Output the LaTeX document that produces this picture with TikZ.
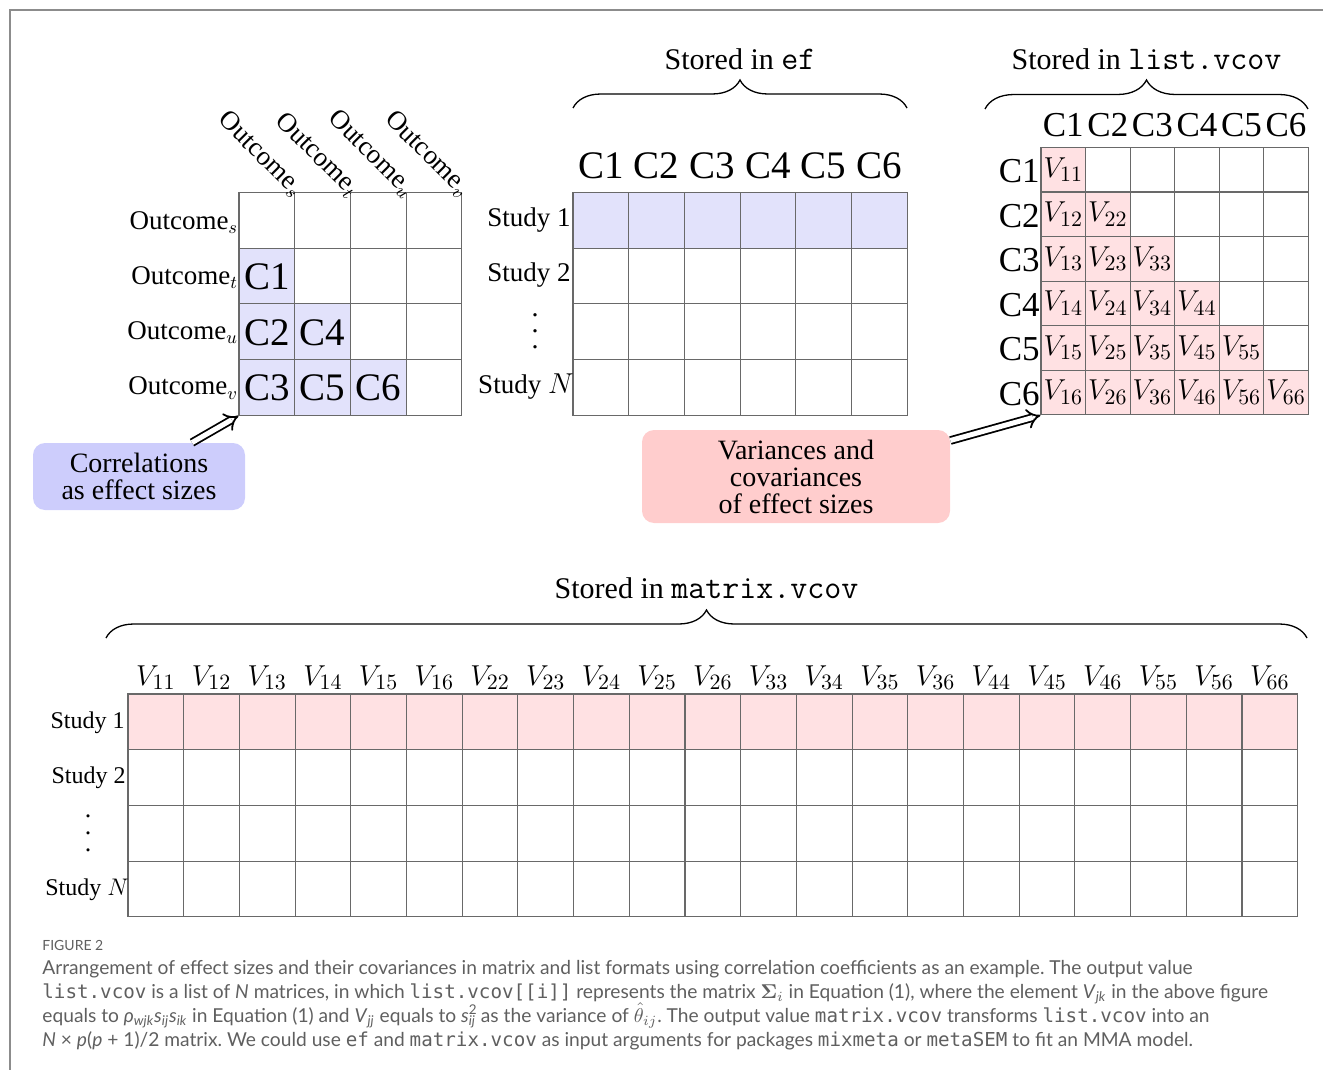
\documentclass[tikz,border=0pt]{standalone}
\usepackage{amsmath}
\usepackage{bm}
\usepackage{fontspec}
\setmainfont{Liberation Serif}
\newfontfamily\capfont{Lato}
\newfontfamily\capmono{DejaVu Sans Mono}
\usetikzlibrary{decorations.pathreplacing,arrows.meta}

\definecolor{cellblue}{RGB}{226,226,251}
\definecolor{boxblue}{RGB}{205,205,252}
\definecolor{cellpink}{RGB}{255,225,227}
\definecolor{boxpink}{RGB}{255,205,205}
\definecolor{gridline}{RGB}{105,105,105}
\definecolor{capgray}{RGB}{95,95,95}
\definecolor{framegray}{RGB}{140,140,140}

\newcommand{\subsup}[2]{\makebox[0pt][l]{\textsuperscript{#1}}\textsubscript{\textit{#2}}}
\newcommand{\codett}[1]{{\ttfamily\fontsize{16.5}{18}\selectfont #1}}

\tikzset{
  cellA/.style={draw=gridline, line width=0.55pt, minimum width=27.85pt, minimum height=27.85pt, inner sep=0pt},
  cellB/.style={draw=gridline, line width=0.55pt, minimum width=22.275pt, minimum height=22.3pt, inner sep=0pt},
  bigC/.style={font=\fontsize{19.5}{22}\selectfont, anchor=base, inner sep=0pt},
  midC/.style={font=\fontsize{17.5}{20}\selectfont, anchor=base, inner sep=0pt},
  vtext/.style={font=\fontsize{15}{18}\selectfont, anchor=base, inner sep=0pt},
  rowlab/.style={font=\fontsize{13.5}{16}\selectfont, anchor=base east, inner sep=0pt},
  smalllab/.style={font=\fontsize{12}{14}\selectfont, anchor=base east, inner sep=0pt},
  titletext/.style={font=\fontsize{15}{18}\selectfont, anchor=base, inner sep=0pt},
  bracepath/.style={decorate, decoration={brace, amplitude=14pt}, line width=0.65pt},
  infobox/.style={rounded corners=6pt, align=center, font=\fontsize{14}{13.5}\selectfont, inner sep=0pt},
  dblarrow/.style={double, double distance=2.5pt, line width=0.9pt, -{Implies}},
  capline/.style={anchor=base west, inner sep=0pt, text=capgray, font=\capfont\fontsize{9.6}{12}\selectfont\frenchspacing},
  dotsnode/.style={align=center, inner sep=0pt},
}

\begin{document}
\begin{tikzpicture}[x=0.5pt,y=-0.5pt]
\useasboundingbox (0,0) rectangle (1323,1070);
\draw[framegray, line width=1pt] (10,1085) -- (10,10) -- (1340,10);

% ---------- left correlation matrix ----------
\foreach \r in {1,...,4}{
  \foreach \c in {1,...,4}{
    \ifnum\c<\r \def\fc{cellblue}\else\def\fc{white}\fi
    \node[cellA, fill=\fc] (L-\r-\c) at ({239+55.7*(\c-0.5)},{192.5+55.7*(\r-0.5)}) {};
  }
}
\foreach \r/\c/\t in {2/1/C1,3/1/C2,4/1/C3,3/2/C4,4/2/C5,4/3/C6}{
  \node[bigC] (Lt-\r-\c) at ({239+55.7*(\c-0.5)},{400.5-55.3*(4-\r)}) {\t};
}
\foreach \r/\s in {1/s,2/t,3/u,4/v}{
  \node[rowlab] (Lr-\r) at (238.5,{229+55.3*(\r-1)}) {Outcome$_\s$};
}
\foreach \c/\s in {1/s,2/t,3/u,4/v}{
  \node[rowlab, rotate=-45] (Lc-\c) at ({239+55.7*\c+0},198) {Outcome$_\s$};
}

% ---------- ef matrix ----------
\foreach \r in {1,...,4}{
  \foreach \c in {1,...,6}{
    \ifnum\r=1 \def\fc{cellblue}\else\def\fc{white}\fi
    \node[cellA, fill=\fc] (E-\r-\c) at ({573+55.7*(\c-0.5)},{192.5+55.7*(\r-0.5)}) {};
  }
}
\foreach \c in {1,...,6}{
  \node[bigC] (Eh-\c) at ({573+55.7*(\c-0.5)},178.3) {C\c};
}
\node[rowlab] (Es-1) at (571,226.5) {Study 1};
\node[rowlab] (Es-2) at (571,281.7) {Study 2};
\node[dotsnode, font=\fontsize{14}{8}\selectfont] (Es-3) at (535,331) {.\\.\\.};
\node[rowlab] (Es-4) at (574,393) {Study $N$};

\draw[bracepath] (573,108) -- (907,108);
\node[titletext] (eftitle) at (740,70) {Stored in \codett{ef}};

% ---------- list.vcov matrix ----------
\foreach \r in {1,...,6}{
  \foreach \c in {1,...,6}{
    \ifnum\c>\r \def\fc{white}\else\def\fc{cellpink}\fi
    \node[cellB, fill=\fc] (V-\r-\c) at ({1041+44.55*(\c-0.5)},{147.5+44.55*(\r-0.5)}) {};
  }
}
\foreach \r in {1,...,6}{
  \foreach \c in {1,...,6}{
    \ifnum\c>\r\else
      \node[vtext] (Vt-\r-\c) at ({1041+44.55*(\c-0.5)},{177.2+44.55*(\r-1)}) {$V_{\c\r}$};
    \fi
  }
}
\foreach \c in {1,...,6}{
  \node[midC] (Vh-\c) at ({1041+44.55*(\c-0.5)},136.7) {C\c};
}
\foreach \r in {1,...,6}{
  \node[midC, anchor=base east] (Vr-\r) at (1040,{182.6+44.55*(\r-1)}) {C\r};
}
\draw[bracepath, decoration={amplitude=14.5pt}] (985,109) -- (1308,109);
\node[titletext] (lvtitle) at (1146.5,70) {Stored in \codett{list.vcov}};

% ---------- info boxes and arrows ----------
\node[infobox, fill=boxblue, minimum width=106pt, minimum height=33.5pt] (corr) at (139,476.5) {Correlations\\as effect sizes};
\node[infobox, fill=boxpink, minimum width=154pt, minimum height=46.5pt] (vbox) at (796,476.5) {Variances and\\covariances\\of effect sizes};
\draw[dblarrow] ([xshift=26.5pt]corr.north) -- (L-4-1.south west);
\draw[dblarrow] ([yshift=18pt]vbox.east) -- (V-6-1.south west);

% ---------- matrix.vcov ----------
\foreach \r in {1,...,4}{
  \foreach \c in {1,...,21}{
    \ifnum\r=1 \def\fc{cellpink}\else\def\fc{white}\fi
    \node[cellA, fill=\fc] (M-\r-\c) at ({128+55.7*(\c-0.5)},{694+55.7*(\r-0.5)}) {};
  }
}
\foreach \c/\s in {1/11,2/12,3/13,4/14,5/15,6/16,7/22,8/23,9/24,10/25,11/26,12/33,13/34,14/35,15/36,16/44,17/45,18/46,19/55,20/56,21/66}{
  \node[vtext] (Mh-\c) at ({128+55.7*(\c-0.5)},685) {$V_{\s}$};
}
\node[smalllab] (Ms-1) at (125,728.3) {Study 1};
\node[smalllab] (Ms-2) at (126,783.3) {Study 2};
\node[dotsnode, font=\fontsize{13}{8.5}\selectfont] (Ms-3) at (88,833.5) {.\\.\\.};
\node[smalllab] (Ms-4) at (129,895) {Study $N$};

\draw[bracepath] (106,638) -- (1307,638);
\node[titletext] (mvtitle) at (706.5,598.3) {Stored in \codett{matrix.vcov}};

% ---------- caption ----------
\node[capline, font=\capfont\fontsize{7}{8}\selectfont] (cap0) at (42,950) {FIGURE 2};
\node[capline] (cap1) at (42,974) {Arrangement of effect sizes and their covariances in matrix and list formats using correlation coefficients as an example. The output value};
\node[capline] (cap2) at (42,998) {{\capmono list.vcov} is a list of \textit{N} matrices, in which {\capmono list.vcov[[i]]} represents the matrix $\boldsymbol{\Sigma}_i$ in Equation (1), where the element \textit{V}\textsubscript{\textit{jk}} in the above figure};
\node[capline] (cap3) at (42,1022) {equals to \textit{ρ}\textsubscript{\textit{wjk}}\textit{s}\textsubscript{\textit{ij}}\textit{s}\textsubscript{\textit{ik}} in Equation (1) and \textit{V}\textsubscript{\textit{jj}} equals to \textit{s}\subsup{2}{ij} as the variance of $\hat{\theta}_{ij}$. The output value {\capmono matrix.vcov} transforms {\capmono list.vcov} into an};
\node[capline] (cap4) at (42,1046) {\textit{N} × \textit{p}(\textit{p} + 1)/2 matrix. We could use {\capmono ef} and {\capmono matrix.vcov} as input arguments for packages {\capmono mixmeta} or {\capmono metaSEM} to fit an MMA model.};
\end{tikzpicture}
\end{document}
